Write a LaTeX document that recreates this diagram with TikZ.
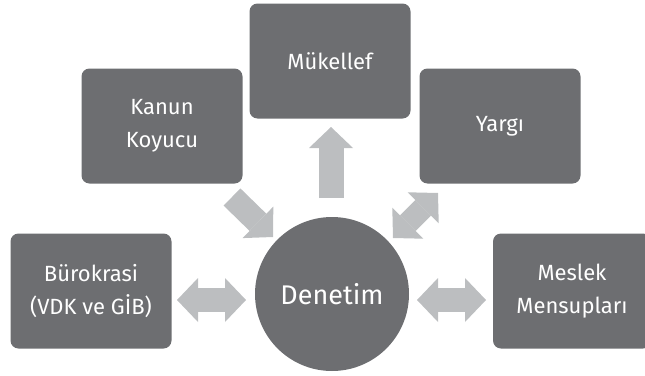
\documentclass[tikz,border=0pt]{standalone}
\usepackage{fontspec}
\setmainfont{Fira Sans}
\usetikzlibrary{arrows.meta}
\definecolor{boxgray}{HTML}{6D6E71}
\definecolor{arrowgray}{HTML}{BCBEC0}
\tikzset{
  actor/.style={fill=boxgray, rounded corners=8pt, minimum width=161pt, minimum height=115pt,
    text=white, align=center, inner sep=0pt, font=\fontsize{22}{33}\selectfont},
  hub/.style={circle, fill=boxgray, minimum size=154pt, inner sep=0pt, text=white,
    font=\fontsize{27}{33}\selectfont},
  oneway/.style={draw=arrowgray, line width=25pt, -{Triangle[length=21pt, width=44pt, line width=0pt]}},
  twoway/.style={draw=arrowgray, line width=24pt, {Triangle[length=21pt, width=44pt, line width=0pt]}-{Triangle[length=21pt, width=44pt, line width=0pt]}}
}
\begin{document}
\begin{tikzpicture}[x=1pt, y=-1pt]
\useasboundingbox (0,0) rectangle (645,375);
\node [hub] (den) at (332,294) {Denetim};
\node [actor] (kanun) at (162,126) {Kanun\\Koyucu};
\node [actor] (muk) at (330,61) {Mükellef};
\node [actor] (yargi) at (500,126) {Yargı};
\node [actor] (buro) at (91,291) {Bürokrasi\\(VDK ve GİB)};
\node [actor, minimum width=158pt] (meslek) at (572,291) {Meslek\\Mensupları};
% arrow ends
\coordinate (mukA) at (331,198);
\coordinate (mukB) at (331,127);
\coordinate (kanA) at (232,197);
\coordinate (kanB) at (273,237);
\coordinate (yarA) at (393,238);
\coordinate (yarB) at (438,193);
\coordinate (buroA) at (177,300);
\coordinate (buroB) at (246,300);
\coordinate (mesA) at (417,300);
\coordinate (mesB) at (486,300);
\draw [oneway] (mukA) -- (mukB);
\draw [oneway, line width=24pt] (kanA) -- (kanB);
\draw [twoway, line width=22pt] (yarA) -- (yarB);
\draw [twoway] (buroA) -- (buroB);
\draw [twoway] (mesA) -- (mesB);
\end{tikzpicture}
\end{document}
